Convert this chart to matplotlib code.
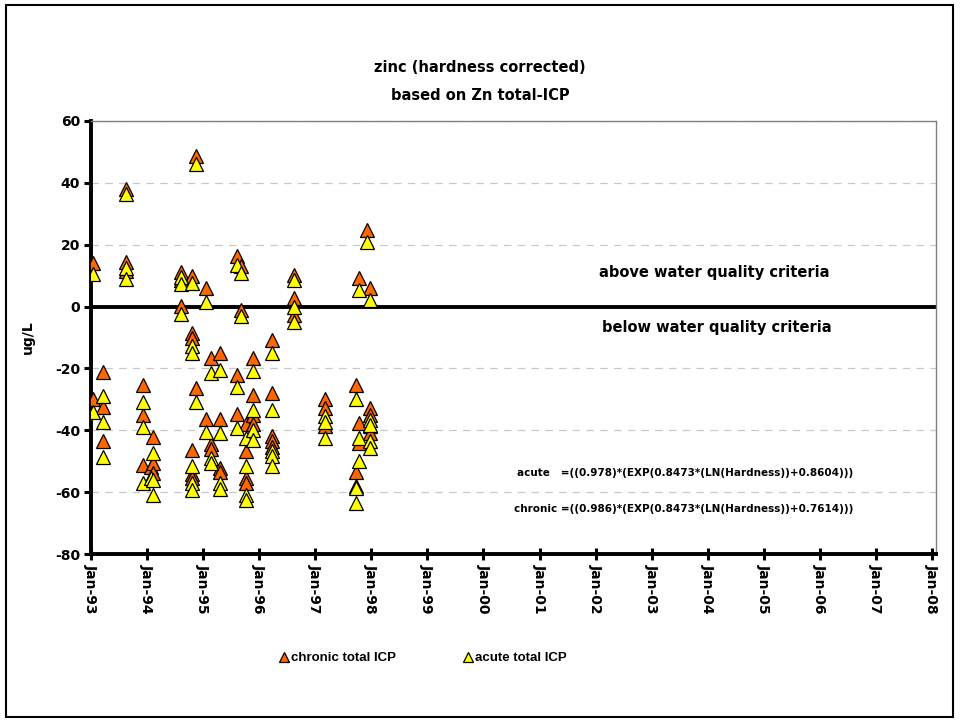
import datetime as dt
import matplotlib
matplotlib.use("Agg")
import matplotlib.pyplot as plt
import matplotlib.dates as mdates
from matplotlib.patches import Rectangle

plt.rcParams["font.family"] = ["DejaVu Sans"]
plt.rcParams["font.weight"] = "bold"
plt.rcParams["axes.unicode_minus"] = False

# sample dates (one entry per chronic/acute pair)
sample_dates = [
    "1993-01-14", "1993-01-14",
    "1993-03-17", "1993-03-17", "1993-03-17",
    "1993-08-14", "1993-08-14", "1993-08-14",
    "1993-12-06", "1993-12-06", "1993-12-06",
    "1994-01-25",
    "1994-02-08", "1994-02-08", "1994-02-08",
    "1994-08-12", "1994-08-12", "1994-08-12",
    "1994-10-20", "1994-10-20", "1994-10-20", "1994-10-20", "1994-10-20", "1994-10-20",
    "1994-11-18", "1994-11-18",
    "1995-01-21", "1995-01-21",
    "1995-02-25", "1995-02-25", "1995-02-25",
    "1995-04-21", "1995-04-21", "1995-04-21", "1995-04-21",
    "1995-08-07", "1995-08-07", "1995-08-07",
    "1995-09-02", "1995-09-02",
    "1995-10-05", "1995-10-05", "1995-10-05", "1995-10-05",
    "1995-11-23", "1995-11-23", "1995-11-23", "1995-11-23",
    "1996-03-27", "1996-03-27", "1996-03-27", "1996-03-27", "1996-03-27",
    "1996-08-16", "1996-08-16", "1996-08-16",
    "1997-03-06", "1997-03-06", "1997-03-06",
    "1997-09-21", "1997-09-21", "1997-09-21",
    "1997-10-14", "1997-10-14", "1997-10-14",
    "1997-12-05",
    "1997-12-25", "1997-12-25", "1997-12-25", "1997-12-25", "1997-12-25",
]

# measured minus criterion, ug/L
chronic_icp = [
    14, -30,
    -21, -32.5, -43.6,
    38, 14.5, 11.5,
    -25.3, -35.2, -51.1,
    -52,
    -42.1, -50.5, -53.7,
    11.3, 8.5, 0.2,
    10, -8.5, -10, -46.5, -54, -55.5,
    48.7, -26.4,
    6, -36.2,
    -16.6, -44.4, -46,
    -15, -36.5, -52.2, -53.5,
    16.2, -22.1, -34.7,
    13, -1,
    -38, -46.8, -55.4, -57,
    -16.6, -28.5, -35, -38,
    -10.8, -28, -42, -43.5, -45.5,
    10.2, 2.7, -2.7,
    -29.8, -32.8, -38.5,
    -25.3, -53.5, -58,
    9.2, -37.7, -44.1,
    24.8,
    6, -32.8, -35, -38.5, -40.9,
]

acute_icp = [
    10.5, -34,
    -29, -37.3, -48.5,
    36.5, 12.5, 9,
    -31, -38.9, -56.9,
    -55.5,
    -47.2, -56, -60.8,
    9.7, 7.3, -2.4,
    7.5, -12.9, -15, -51.7, -57, -59.3,
    46, -30.7,
    1.6, -40.6,
    -21.5, -49, -50.6,
    -20.5, -40.8, -57, -59,
    13.5, -26, -39.3,
    11, -3.2,
    -42.5, -51.7, -60.8, -62.6,
    -20.7, -33.4, -39.9, -43,
    -15, -33.4, -46.8, -48.4, -51.7,
    8.6, 0, -5,
    -35.5, -37.2, -42.5,
    -29.9, -58.7, -63.5,
    5.4, -42.5, -50,
    21,
    2.2, -36.6, -38.3, -43.6, -45.8,
]

series_labels = ["chronic total ICP", "acute total ICP"]
series_colors = ["#FF6600", "#FFFF00"]

y_ticks = [-80, -60, -40, -20, 0, 20, 40, 60]

dates = [dt.datetime.strptime(d, "%Y-%m-%d") for d in sample_dates]

fig = plt.figure(figsize=(9.6, 7.21), dpi=100)
W, H = 960, 721
ax = fig.add_axes([91 / W, 1 - 554 / H, (936 - 91) / W, (554 - 121) / H])

for vals, lab, col in zip([chronic_icp, acute_icp], series_labels, series_colors):
    ax.plot(dates, vals, linestyle="none", marker="^", markersize=10,
            markerfacecolor=col, markeredgecolor="black", markeredgewidth=0.9,
            label=lab, zorder=3)

ax.axhline(0, color="black", linewidth=2.8, zorder=2)

ax.set_ylim(-80, 60)
ax.set_yticks(y_ticks)
ax.set_xlim(dt.datetime(1993, 1, 1), dt.datetime(2008, 1, 28))
ax.xaxis.set_major_locator(mdates.YearLocator(1, month=1, day=1))
ax.xaxis.set_major_formatter(mdates.DateFormatter("%b-%y"))

ax.grid(axis="y", color="#c8c8c8", linestyle=(0, (6, 5)), linewidth=0.9, zorder=1)
ax.set_axisbelow(True)

for s in ("left", "bottom"):
    ax.spines[s].set_linewidth(2.8)
    ax.spines[s].set_color("black")
for s in ("top", "right"):
    ax.spines[s].set_linewidth(1.0)
    ax.spines[s].set_color("#808080")

ax.tick_params(axis="y", direction="out", length=5, width=2.2, labelsize=10, pad=3)
ax.tick_params(axis="x", direction="inout", length=8, width=2.2, labelsize=10,
               labelrotation=-90, pad=3)
for lbl in ax.get_xticklabels() + ax.get_yticklabels():
    lbl.set_fontweight("bold")
for lbl in ax.get_xticklabels():
    lbl.set_ha("center")
    lbl.set_va("top")

ax.set_ylabel("ug/L", fontsize=10, fontweight="bold")
ax.yaxis.set_label_coords((35 - 91) / 845, 0.5)

fig.text(480 / W, 1 - 68 / H, "zinc (hardness corrected)", ha="center", va="center",
         fontsize=10.5, fontweight="bold")
fig.text(480 / W, 1 - 96 / H, "based on Zn total-ICP", ha="center", va="center",
         fontsize=10.5, fontweight="bold")

yt = ax.get_yaxis_transform()
ax.text(0.737, 10.9, "above water quality criteria", transform=yt,
        ha="center", va="center", fontsize=10.5, fontweight="bold")
ax.text(0.741, -6.9, "below water quality criteria", transform=yt,
        ha="center", va="center", fontsize=10.5, fontweight="bold")
ax.text(0.902, -53.8, "acute   =((0.978)*(EXP(0.8473*(LN(Hardness))+0.8604)))",
        transform=yt, ha="right", va="center", fontsize=7.45, fontweight="bold")
ax.text(0.902, -65.4, "chronic =((0.986)*(EXP(0.8473*(LN(Hardness))+0.7614)))",
        transform=yt, ha="right", va="center", fontsize=7.45, fontweight="bold")

handles, labels = ax.get_legend_handles_labels()
fig.legend(handles, labels, loc="center", bbox_to_anchor=(423 / W, 1 - 658 / H),
           ncol=2, frameon=False, markerscale=0.7,
           handlelength=0.7, handletextpad=0.2, columnspacing=5.1,
           prop={"family": "Liberation Sans", "weight": "bold", "size": 9.5})

fig.add_artist(Rectangle((6 / W, 1 - 717 / H), (953 - 6) / W, (717 - 5) / H,
                         transform=fig.transFigure, fill=False,
                         edgecolor="black", linewidth=1.5))

fig.savefig("out.png", dpi=100)
